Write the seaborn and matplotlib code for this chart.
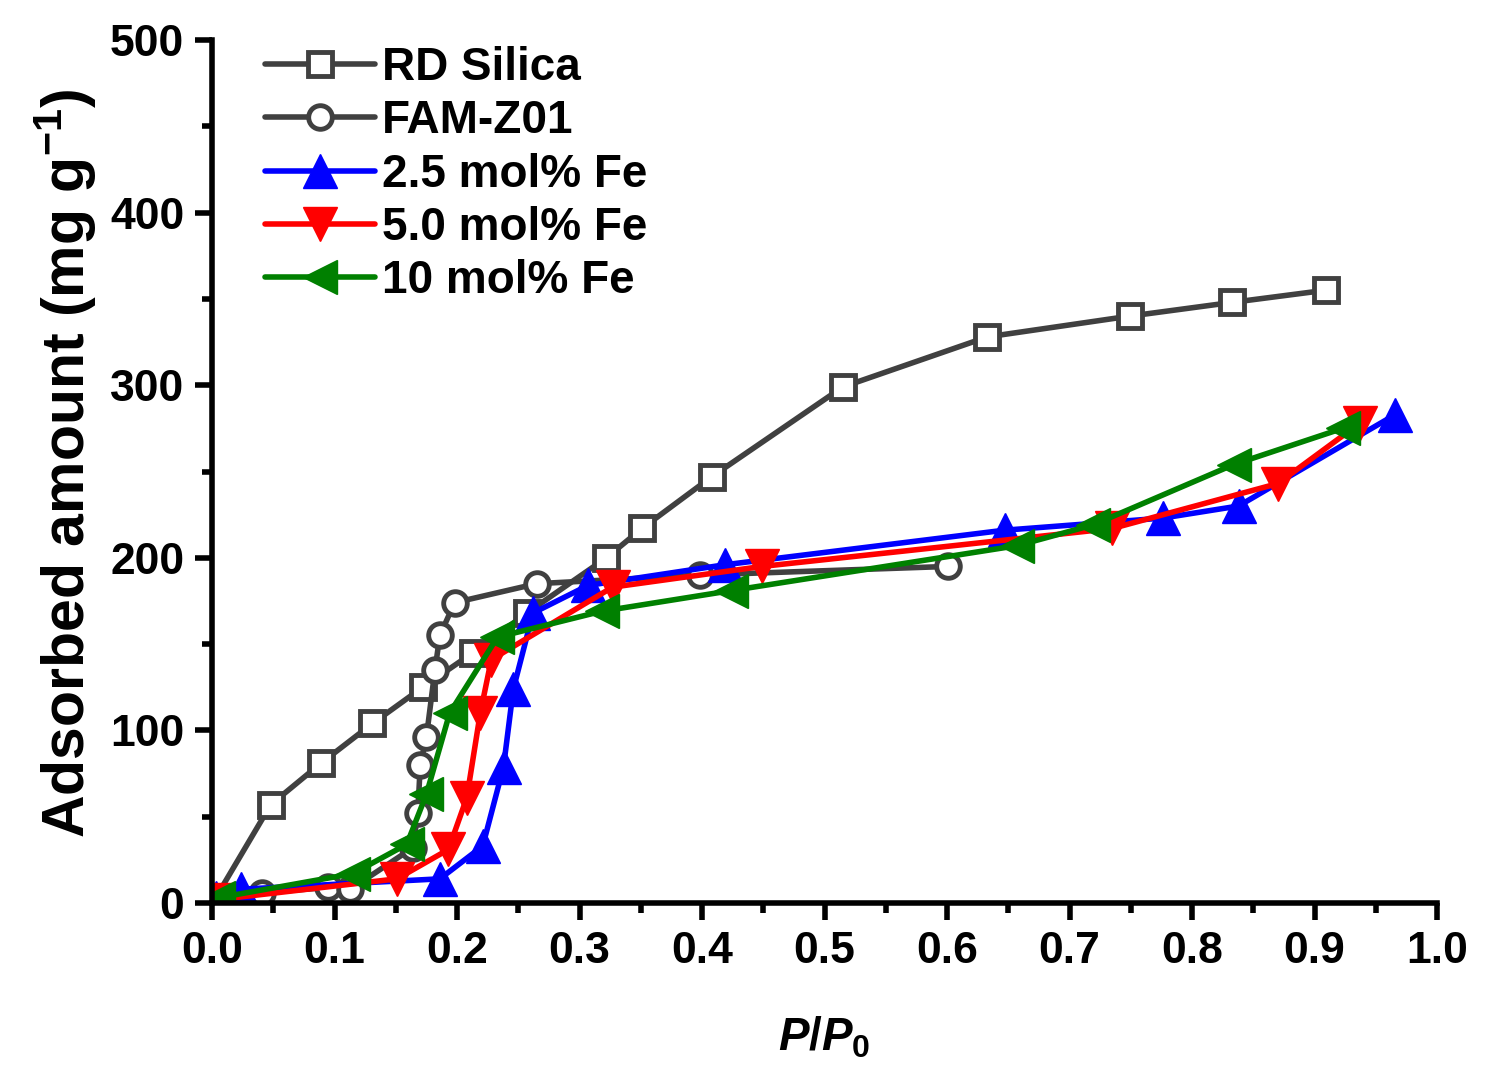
import matplotlib
matplotlib.use("Agg")
import matplotlib.pyplot as plt
import seaborn as sns
import pandas as pd
from matplotlib.ticker import MultipleLocator

# ---- data ----
rd_x = [0.003, 0.048, 0.089, 0.131, 0.172, 0.213, 0.257, 0.322, 0.351, 0.408, 0.515, 0.633, 0.749, 0.833, 0.909]
rd_y = [3, 57, 81, 104, 125, 145, 168, 200, 217, 247, 299, 328, 340, 348, 355]

fam_x = [0.005, 0.041, 0.095, 0.113, 0.164, 0.168, 0.170, 0.175, 0.182, 0.186, 0.198, 0.265, 0.398, 0.601]
fam_y = [3, 6, 9, 8, 32, 52, 80, 96, 135, 155, 174, 185, 190, 195]

fe25_x = [0.003, 0.024, 0.186, 0.221, 0.238, 0.246, 0.262, 0.307, 0.419, 0.647, 0.776, 0.838, 0.966]
fe25_y = [3, 8, 14, 33, 79, 124, 168, 184, 196, 216, 223, 230, 283]

fe50_x = [0.005, 0.151, 0.193, 0.208, 0.219, 0.228, 0.327, 0.449, 0.735, 0.870, 0.937]
fe50_y = [2, 14, 31, 61, 110, 141, 183, 195, 217, 243, 278]

fe10_x = [0.005, 0.115, 0.159, 0.175, 0.194, 0.233, 0.318, 0.424, 0.657, 0.719, 0.834, 0.923]
fe10_y = [3, 17, 34, 63, 110, 154, 169, 181, 207, 219, 254, 275]

labels = ["RD Silica", "FAM-Z01", "2.5 mol% Fe", "5.0 mol% Fe", "10 mol% Fe"]
xtick_labels = ["0.0", "0.1", "0.2", "0.3", "0.4", "0.5", "0.6", "0.7", "0.8", "0.9", "1.0"]

sns.set_style("ticks")
plt.rcParams["font.family"] = ["Liberation Sans", "DejaVu Sans"]
plt.rcParams["font.weight"] = "bold"
plt.rcParams["text.color"] = "black"
plt.rcParams["axes.labelcolor"] = "black"
plt.rcParams["xtick.color"] = "black"
plt.rcParams["ytick.color"] = "black"
plt.rcParams["mathtext.fontset"] = "custom"
plt.rcParams["mathtext.rm"] = "Liberation Sans:bold"
plt.rcParams["mathtext.bf"] = "Liberation Sans:bold"
plt.rcParams["mathtext.it"] = "Liberation Sans:italic:bold"
plt.rcParams["mathtext.default"] = "bf"

fig = plt.figure(figsize=(14.96, 10.8), dpi=100)
ax = fig.add_axes([212/1496, 1 - 903/1080, (1437 - 212)/1496, (903 - 40)/1080])

gray = "#404040"
series = [
    (rd_x, rd_y, labels[0], gray, "s", "white", 17),
    (fam_x, fam_y, labels[1], gray, "o", "white", 17),
    (fe25_x, fe25_y, labels[2], "#0000ff", "^", "#0000ff", 24),
    (fe50_x, fe50_y, labels[3], "#ff0000", "v", "#ff0000", 24),
    (fe10_x, fe10_y, labels[4], "#008000", "<", "#008000", 24),
]
for xs, ys, lab, col, mk, fc, ms in series:
    df = pd.DataFrame({"x": xs, "y": ys})
    sns.lineplot(data=df, x="x", y="y", ax=ax, color=col, marker=mk,
                 markersize=ms, markerfacecolor=fc, markeredgecolor=col,
                 markeredgewidth=3.5 if fc == "white" else 1,
                 linewidth=4, sort=False, estimator=None, label=lab)

ax.set_xlim(0, 1.0)
ax.set_ylim(0, 500)
ax.set_xticks([i / 10 for i in range(11)])
ax.set_xticklabels(xtick_labels)
ax.xaxis.set_minor_locator(MultipleLocator(0.05))
ax.yaxis.set_major_locator(MultipleLocator(100))
ax.yaxis.set_minor_locator(MultipleLocator(50))

for s in ["top", "right"]:
    ax.spines[s].set_visible(False)
for s in ["left", "bottom"]:
    ax.spines[s].set_linewidth(4)
    ax.spines[s].set_color("black")

ax.tick_params(which="major", direction="out", length=12, width=4, labelsize=32, pad=8, colors="black")
ax.tick_params(which="minor", direction="out", length=7, width=4)
for t in ax.get_xticklabels() + ax.get_yticklabels():
    t.set_fontweight("bold")

ax.set_xlabel(r"$\mathit{P/P}_{\mathbf{0}}$", fontsize=33)
ax.set_ylabel(r"Adsorbed amount (mg g$^{-1}$)", fontsize=42.5, fontweight="bold")
ax.xaxis.set_label_coords(0.5, -0.13)
ax.yaxis.set_label_coords(-0.092, 0.51)

leg = ax.legend(loc="upper left", bbox_to_anchor=(0.028, 1.014), frameon=False,
                fontsize=33, handlelength=2.4, handletextpad=0.15,
                labelspacing=0.2, borderaxespad=0)
for t in leg.get_texts():
    t.set_fontweight("bold")

fig.savefig("out.png", dpi=100, facecolor="white")
